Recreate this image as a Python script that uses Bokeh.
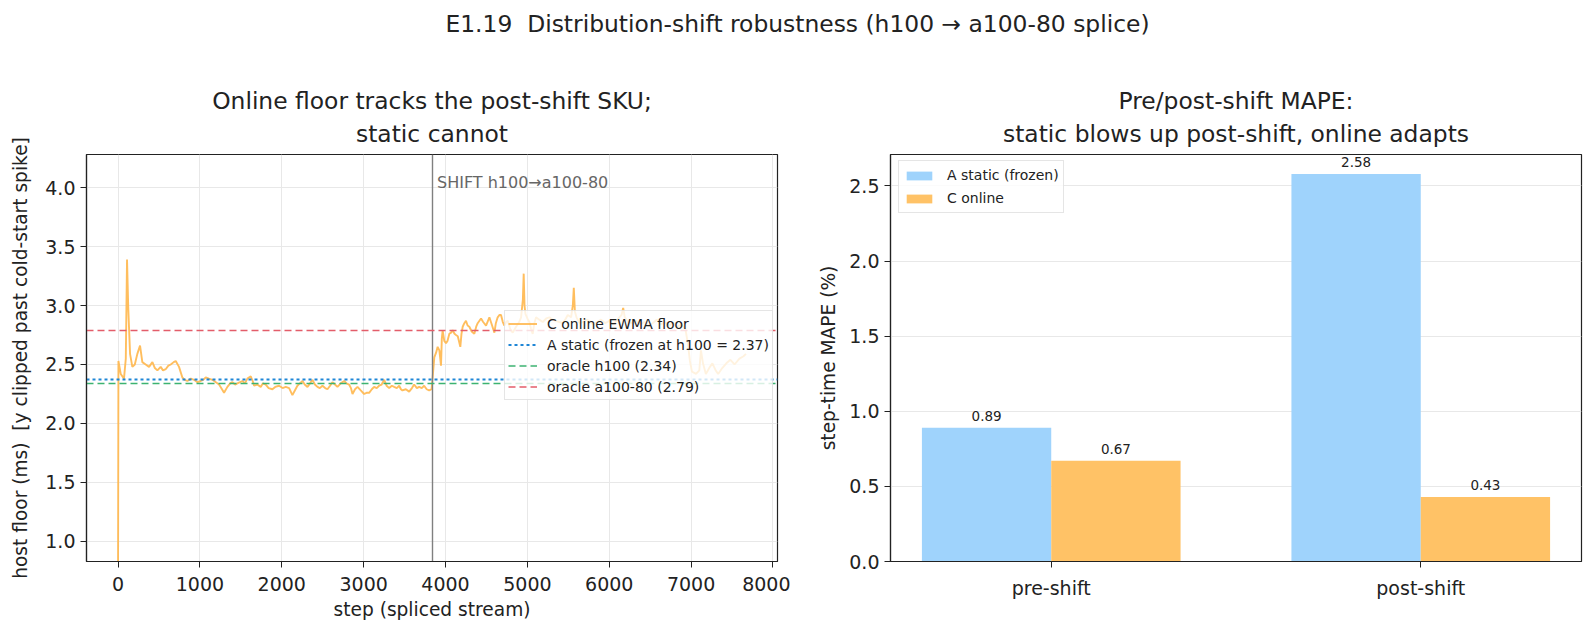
from bokeh.plotting import figure
from bokeh.models import (Legend, LegendItem, Label, Title, FixedTicker, PrintfTickFormatter,
                          Div, Range1d, ColumnDataSource)
from bokeh.core.properties import value
from bokeh.layouts import column, row
from bokeh.embed import file_html
from bokeh.resources import INLINE

# ---------------- data ----------------
steps = [0, 5, 33, 73, 95, 110, 125, 147, 175, 205, 236, 269, 297, 338, 379, 420, 450, 481, 521, 550,
         582, 615, 644, 680, 705, 745, 786, 815, 847, 890, 929, 970, 1010, 1040, 1071, 1110, 1153, 1195,
         1234, 1270, 1295, 1336, 1370, 1397, 1430, 1458, 1490, 1519, 1550, 1580, 1621, 1645, 1662, 1700,
         1743, 1770, 1804, 1840, 1886, 1920, 1967, 2010, 2049, 2090, 2130, 2160, 2191, 2220, 2253, 2280,
         2314, 2345, 2375, 2405, 2436, 2465, 2497, 2530, 2558, 2590, 2619, 2650, 2680, 2720, 2762, 2790,
         2823, 2845, 2864, 2895, 2925, 2965, 3006, 3035, 3067, 3100, 3128, 3160, 3189, 3220, 3251, 3280,
         3312, 3345, 3373, 3405, 3434, 3455, 3474, 3515, 3556, 3590, 3617, 3650, 3678, 3710, 3739, 3770,
         3800, 3830, 3850, 3863, 3885, 3904, 3925, 3945, 3955, 3965, 3985, 4006, 4024, 4047, 4068, 4087,
         4110, 4128, 4150, 4181, 4195, 4210, 4230, 4250, 4270, 4291, 4320, 4352, 4375, 4393, 4434, 4460,
         4495, 4536, 4560, 4597, 4615, 4637, 4660, 4678, 4700, 4719, 4740, 4760, 4790, 4821, 4862, 4900,
         4923, 4945, 4955, 4965, 4976, 5000, 5024, 5045, 5065, 5085, 5106, 5145, 5188, 5230, 5269, 5310,
         5350, 5390, 5432, 5470, 5493, 5534, 5555, 5567, 5580, 5600, 5636, 5680, 5720, 5760, 5800, 5850,
         5900, 5950, 6000, 6050, 6100, 6150, 6170, 6190, 6230, 6280, 6330, 6380, 6430, 6480, 6530, 6580,
         6630, 6680, 6730, 6780, 6830, 6880, 6930, 6960, 6985, 7010, 7060, 7100, 7120, 7145, 7180, 7230,
         7260, 7300, 7330, 7380, 7430, 7480, 7530, 7590, 7640, 7670]
online_floor = [0.6, 2.53, 2.42, 2.38, 2.55, 3.39, 2.98, 2.59, 2.48, 2.50, 2.59, 2.66, 2.52, 2.50, 2.48,
                2.52, 2.47, 2.45, 2.48, 2.45, 2.46, 2.49, 2.50, 2.52, 2.53, 2.48, 2.39, 2.37, 2.36, 2.38,
                2.37, 2.35, 2.36, 2.37, 2.39, 2.38, 2.37, 2.35, 2.33, 2.29, 2.26, 2.31, 2.34, 2.35, 2.33,
                2.34, 2.35, 2.36, 2.34, 2.38, 2.40, 2.36, 2.32, 2.33, 2.31, 2.34, 2.33, 2.30, 2.29, 2.31,
                2.32, 2.30, 2.31, 2.30, 2.24, 2.28, 2.32, 2.34, 2.36, 2.33, 2.31, 2.34, 2.37, 2.33, 2.31,
                2.30, 2.32, 2.30, 2.29, 2.32, 2.35, 2.33, 2.31, 2.34, 2.36, 2.34, 2.33, 2.30, 2.25, 2.29,
                2.31, 2.28, 2.25, 2.26, 2.26, 2.29, 2.31, 2.30, 2.32, 2.33, 2.37, 2.32, 2.30, 2.32, 2.31,
                2.30, 2.32, 2.29, 2.28, 2.29, 2.27, 2.30, 2.33, 2.30, 2.31, 2.30, 2.32, 2.29, 2.28, 2.29,
                2.45, 2.56, 2.60, 2.65, 2.62, 2.49, 2.72, 2.79, 2.70, 2.68, 2.70, 2.76, 2.77, 2.79, 2.76,
                2.75, 2.74, 2.65, 2.76, 2.82, 2.85, 2.87, 2.83, 2.82, 2.78, 2.76, 2.82, 2.85, 2.89, 2.86,
                2.83, 2.90, 2.85, 2.77, 2.85, 2.90, 2.92, 2.92, 2.86, 2.83, 2.86, 2.87, 2.80, 2.77, 2.82,
                2.86, 2.90, 3.05, 3.27, 3.00, 2.93, 2.89, 2.86, 2.80, 2.76, 2.85, 2.90, 2.88, 2.86, 2.89,
                2.90, 2.88, 2.87, 2.86, 2.85, 2.89, 2.92, 2.90, 3.00, 3.15, 2.95, 2.90, 2.85, 2.86, 2.88,
                2.87, 2.84, 2.86, 2.88, 2.85, 2.87, 2.84, 2.88, 2.92, 2.98, 2.90, 2.86, 2.85, 2.87, 2.84,
                2.86, 2.83, 2.85, 2.88, 2.84, 2.86, 2.83, 2.85, 2.82, 2.84, 2.80, 2.68, 2.53, 2.44, 2.42,
                2.45, 2.62, 2.51, 2.42, 2.48, 2.51, 2.45, 2.42, 2.47, 2.51, 2.54, 2.50, 2.55, 2.57, 2.59]
shift_step = 3835
static_floor = 2.37
oracle_h100 = 2.34
oracle_a100 = 2.79

phases = ["pre-shift", "post-shift"]
mape_static = [0.89, 2.58]
mape_online = [0.67, 0.43]

FONT = "DejaVu Sans"
DIV_H = 66
FIG_H = 634 - DIV_H
TICK_FS = "19px"
LABEL_FS = "18.6px"
TITLE_FS = "23.4px"
LEG_FS = "14px"

def style(p, label_standoff):
    p.outline_line_color = "#222222"
    p.outline_line_width = 1.2
    for ax in (p.xaxis, p.yaxis):
        ax.axis_line_color = "#222222"
        ax.axis_line_width = 1.2
        ax.major_tick_line_color = "#222222"
        ax.major_tick_in = 0
        ax.major_tick_out = 6
        ax.minor_tick_line_color = None
        ax.major_label_text_font = FONT
        ax.major_label_text_font_size = TICK_FS
        ax.major_label_text_color = "#222222"
        ax.axis_label_text_font = FONT
        ax.axis_label_text_font_size = LABEL_FS
        ax.axis_label_text_font_style = "normal"
        ax.axis_label_text_color = "#222222"
    p.yaxis.major_label_standoff = 5
    p.xaxis.major_label_standoff = 9
    p.xaxis.axis_label_standoff = 5
    p.yaxis.axis_label_standoff = label_standoff
    p.grid.grid_line_color = "#e8e8e8"
    p.grid.grid_line_width = 1
    p.background_fill_color = "white"
    p.border_fill_color = "white"

def add_titles(p, lines):
    for i, t in enumerate(reversed(lines)):
        p.add_layout(Title(text=t, align="center", text_font=FONT, text_font_size=TITLE_FS,
                           text_font_style="normal", text_color="#222222",
                           standoff=13 if i == 0 else -6), "above")

def style_legend(leg):
    leg.label_text_font = FONT
    leg.label_text_font_size = LEG_FS
    leg.label_text_color = "#222222"
    leg.margin = 0
    leg.border_line_color = "#cccccc"
    leg.border_line_width = 1.2
    leg.background_fill_alpha = 0.8

# ---------------- left panel ----------------
p1 = figure(width=790, height=FIG_H, x_range=Range1d(-385, 8055), y_range=Range1d(0.83, 4.28),
            output_backend="svg", toolbar_location=None,
            min_border_left=86, min_border_right=13, min_border_top=88, min_border_bottom=73)
style(p1, 11)
add_titles(p1, ["Online floor tracks the post-shift SKU;", "static cannot"])
p1.xaxis.ticker = FixedTicker(ticks=[0, 1000, 2000, 3000, 4000, 5000, 6000, 7000, 8000])
p1.yaxis.ticker = FixedTicker(ticks=[1.0, 1.5, 2.0, 2.5, 3.0, 3.5, 4.0])
p1.yaxis.formatter = PrintfTickFormatter(format="%.1f")
p1.xaxis.axis_label = "step (spliced stream)"
p1.yaxis.axis_label = "host floor (ms)\u00a0 [y clipped past cold-start spike]"

src = ColumnDataSource(dict(step=steps, floor=online_floor))
r_online = p1.line("step", "floor", source=src, line_color="#ffb74d", line_alpha=0.9, line_width=1.9)
p1.vspan(x=[shift_step], line_color="#808080", line_width=1.4)
r_static = p1.hspan(y=[static_floor], line_color="#1f86d6", line_width=2.2, line_dash="3 3")
r_oh = p1.hspan(y=[oracle_h100], line_color="#3cb371", line_width=1.3, line_dash="7 4")
r_oa = p1.hspan(y=[oracle_a100], line_color="#e35d6a", line_width=1.3, line_dash="7 4")
p1.add_layout(Label(x=shift_step, y=4.04, x_offset=5, text="SHIFT h100\u2192a100-80",
                    text_font=FONT, text_font_size="16px", text_color="#666666",
                    text_baseline="middle"))

leg1 = Legend(items=[
    LegendItem(label="C online EWMA floor", renderers=[r_online]),
    LegendItem(label=f"A static (frozen at h100 = {static_floor:.2f})", renderers=[r_static]),
    LegendItem(label=f"oracle h100 ({oracle_h100:.2f})", renderers=[r_oh]),
    LegendItem(label=f"oracle a100-80 ({oracle_a100:.2f})", renderers=[r_oa]),
], location=(418, 161))
style_legend(leg1)
leg1.glyph_width = 29
leg1.glyph_height = 19
leg1.label_height = 19
leg1.label_standoff = 10
leg1.spacing = 2
leg1.padding = 3
p1.add_layout(leg1, "center")

# ---------------- right panel ----------------
xs = list(range(len(phases)))
bw = 0.35
p2 = figure(width=805, height=FIG_H, x_range=Range1d(-0.435, 1.435), y_range=Range1d(0, 2.709),
            output_backend="svg", toolbar_location=None,
            min_border_left=100, min_border_right=14, min_border_top=88, min_border_bottom=73)
style(p2, 7)
add_titles(p2, ["Pre/post-shift MAPE:", "static blows up post-shift, online adapts"])
p2.xgrid.grid_line_color = None
p2.xaxis.ticker = FixedTicker(ticks=xs)
p2.xaxis.major_label_overrides = {i: ph for i, ph in enumerate(phases)}
p2.yaxis.ticker = FixedTicker(ticks=[0.0, 0.5, 1.0, 1.5, 2.0, 2.5])
p2.yaxis.formatter = PrintfTickFormatter(format="%.1f")
p2.yaxis.axis_label = "step-time MAPE (%)"

bsrc = ColumnDataSource(dict(
    xa=[x - bw / 2 for x in xs], xc=[x + bw / 2 for x in xs],
    a=mape_static, c=mape_online,
    at=[f"{v:.2f}" for v in mape_static], ct=[f"{v:.2f}" for v in mape_online]))
ra = p2.vbar(x="xa", top="a", width=bw, source=bsrc, fill_color="#9fd3fc", line_color=None)
rc = p2.vbar(x="xc", top="c", width=bw, source=bsrc, fill_color="#ffc266", line_color=None)
p2.text(x="xa", y="a", text="at", source=bsrc, y_offset=-7, text_align="center",
        text_baseline="bottom", text_font=value(FONT), text_font_size="13.5px", text_color="#222222")
p2.text(x="xc", y="c", text="ct", source=bsrc, y_offset=-7, text_align="center",
        text_baseline="bottom", text_font=value(FONT), text_font_size="13.5px", text_color="#222222")

leg2 = Legend(items=[
    LegendItem(label="A static (frozen)", renderers=[ra]),
    LegendItem(label="C online", renderers=[rc]),
], location=(8, 407 - 8 - 51))
style_legend(leg2)
leg2.glyph_width = 32
leg2.glyph_height = 11
leg2.label_height = 20
leg2.label_standoff = 12
leg2.spacing = 3
leg2.padding = 4
p2.add_layout(leg2, "center")

sup = Div(text="E1.19  Distribution-shift robustness (h100 \u2192 a100-80 splice)",
          width=1595, height=DIV_H, margin=0,
          styles={"text-align": "center", "font-family": FONT, "font-size": "23.4px",
                  "color": "#222222", "white-space": "pre", "padding-top": "8px",
                  "box-sizing": "border-box", "width": "1595px"})

layout = column(sup, row(p1, p2, spacing=0), spacing=0)
open("out.html", "w").write(file_html(layout, INLINE))
